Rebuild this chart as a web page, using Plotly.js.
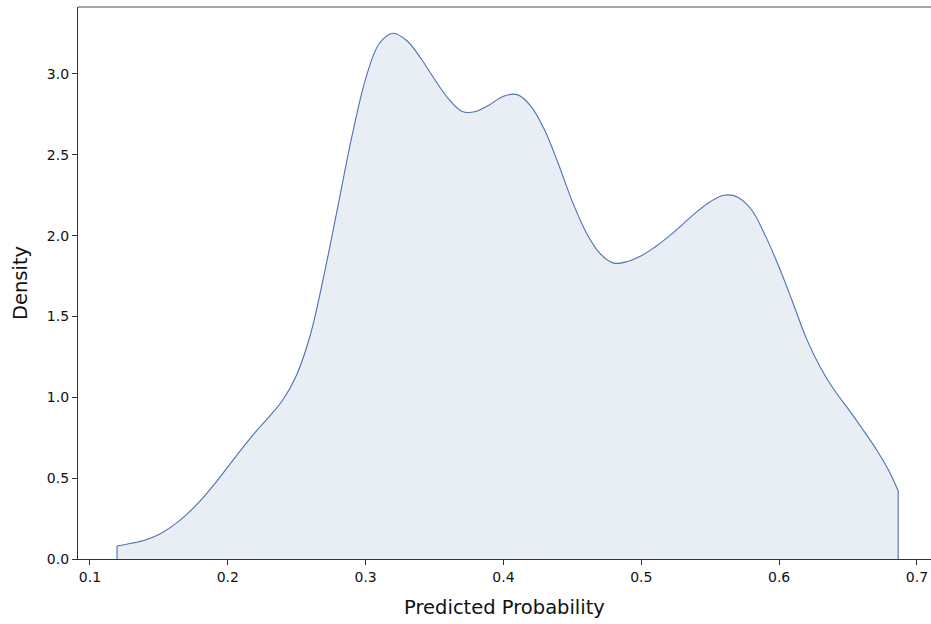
<!DOCTYPE html>
<html>
<head>
<meta charset="utf-8">
<script src="https://cdn.plot.ly/plotly-3.0.1.min.js"></script>
<style>html,body{margin:0;padding:0;background:#fff;}#chart{width:931px;height:624px;}</style>
</head>
<body>
<div id="chart"></div>
<script>
// Predicted probability grid (x) and KDE density values (y)
const probability = [0.1196, 0.13, 0.14, 0.15, 0.16, 0.17, 0.18, 0.19, 0.20, 0.21,
  0.22, 0.23, 0.24, 0.25, 0.26, 0.27, 0.28, 0.29, 0.30, 0.31,
  0.32, 0.33, 0.34, 0.35, 0.36, 0.37, 0.38, 0.39, 0.40, 0.41,
  0.42, 0.43, 0.44, 0.45, 0.46, 0.47, 0.48, 0.49, 0.50, 0.51,
  0.52, 0.53, 0.54, 0.55, 0.56, 0.57, 0.58, 0.59, 0.60, 0.61,
  0.62, 0.63, 0.64, 0.65, 0.66, 0.67, 0.68, 0.6864];
const density = [0.080, 0.097, 0.118, 0.152, 0.205, 0.275, 0.360, 0.460, 0.570, 0.680,
  0.785, 0.880, 0.985, 1.140, 1.390, 1.765, 2.187, 2.612, 2.970, 3.190,
  3.252, 3.205, 3.097, 2.967, 2.847, 2.768, 2.768, 2.810, 2.862, 2.872,
  2.800, 2.650, 2.440, 2.210, 2.020, 1.890, 1.830, 1.840, 1.875, 1.930,
  1.995, 2.070, 2.145, 2.210, 2.250, 2.238, 2.160, 2.000, 1.804, 1.585,
  1.360, 1.185, 1.045, 0.930, 0.810, 0.685, 0.540, 0.421];
const xTicks = [0.1, 0.2, 0.3, 0.4, 0.5, 0.6, 0.7];
const yTicks = [0.0, 0.5, 1.0, 1.5, 2.0, 2.5, 3.0];

const lineColor = '#4c72b0';
const n = probability.length;

const traces = [
  {
    x: probability, y: density, type: 'scatter', mode: 'lines',
    line: {color: lineColor, width: 1.1, shape: 'spline', smoothing: 1.0},
    fill: 'tozeroy', fillcolor: 'rgba(76,114,176,0.12)',
    hoverinfo: 'x+y', showlegend: false
  },
  {
    x: [probability[0], probability[0]], y: [0, density[0]], type: 'scatter', mode: 'lines',
    line: {color: lineColor, width: 1.1}, showlegend: false, hoverinfo: 'skip'
  },
  {
    x: [probability[n - 1], probability[n - 1]], y: [0, density[n - 1]], type: 'scatter', mode: 'lines',
    line: {color: lineColor, width: 1.1}, showlegend: false, hoverinfo: 'skip'
  }
];

const fontFam = 'DejaVu Sans, sans-serif';
const textColor = '#111111';
const layout = {
  width: 931, height: 624,
  margin: {l: 78, r: 0, t: 7, b: 65, pad: 0},
  paper_bgcolor: '#ffffff', plot_bgcolor: '#ffffff',
  font: {family: fontFam, color: textColor, size: 14},
  xaxis: {
    range: [0.0913, 0.7102],
    tickvals: xTicks, ticktext: xTicks.map(v => v.toFixed(1)),
    ticks: 'outside', ticklen: 5, tickwidth: 1, tickcolor: '#333333',
    showline: true, linecolor: '#333333', linewidth: 1.1,
    showgrid: false, zeroline: false,
    tickfont: {family: fontFam, size: 14, color: textColor},
    title: {text: 'Predicted Probability', font: {family: fontFam, size: 19.5, color: textColor}, standoff: 16}
  },
  yaxis: {
    range: [0, 3.414],
    tickvals: yTicks, ticktext: yTicks.map(v => v.toFixed(1)),
    ticks: 'outside', ticklen: 5, tickwidth: 1, tickcolor: '#333333',
    showline: true, linecolor: '#333333', linewidth: 1.1,
    showgrid: false, zeroline: false,
    tickfont: {family: fontFam, size: 14, color: textColor},
    title: {text: 'Density', font: {family: fontFam, size: 19.5, color: textColor}, standoff: 14}
  },
  shapes: [
    {type: 'line', xref: 'paper', yref: 'paper', x0: 0, x1: 1, y0: 1, y1: 1,
     line: {color: '#888888', width: 1.3}}
  ],
  showlegend: false
};

Plotly.newPlot('chart', traces, layout, {displayModeBar: false, staticPlot: true});
</script>
</body>
</html>
